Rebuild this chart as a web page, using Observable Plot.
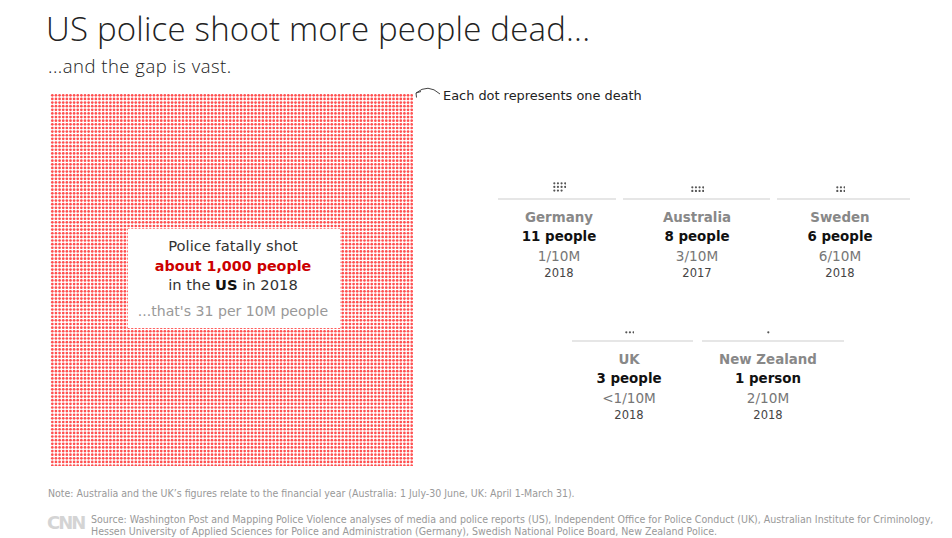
<!DOCTYPE html>
<html>
<head>
<meta charset="utf-8">
<script src="https://cdn.jsdelivr.net/npm/d3@7"></script>
<script src="https://cdn.jsdelivr.net/npm/@observablehq/plot@0.6"></script>
<style>
  html, body { margin: 0; padding: 0; background: #fff; }
  #page { position: relative; width: 952px; height: 538px; overflow: hidden; font-family: "DejaVu Sans", sans-serif; }
  .t { position: absolute; white-space: nowrap; line-height: 1; }
  .c { transform: translateX(-50%); }
  .abs { position: absolute; }
  svg { display: block; }
</style>
</head>
<body>
<div id="page"></div>
<script>
// ---------- data ----------
const usDeathsLabel = "about 1,000 people";
const usYear = "2018";
const usRateLabel = "31 per 10M people";
const usDotsDrawn = 10300;      // dots counted in the picture's grid
const usGridColumns = 100;

const countries  = ["Germany", "Australia", "Sweden", "UK", "New Zealand"];
const deaths     = [11, 8, 6, 3, 1];
const rateLabels = ["1/10M", "3/10M", "6/10M", "<1/10M", "2/10M"];
const years      = ["2018", "2017", "2018", "2018", "2018"];

// ---------- layout ----------
const page = document.getElementById("page");
const S = 3.63; // dot pitch
const cardLayout = [
  {cx: 559, l: 498, r: 616, line: 199},
  {cx: 697, l: 623, r: 770, line: 199},
  {cx: 840, l: 777, r: 910, line: 199},
  {cx: 629, l: 572, r: 693, line: 341},
  {cx: 768, l: 702, r: 844, line: 341}
];

function txt(html, x, baseline, size, style = {}, center = true, asc = 0.846) {
  const d = document.createElement("div");
  d.className = "t" + (center ? " c" : "");
  d.innerHTML = html;
  d.style.left = x + "px";
  d.style.top = (baseline - asc * size) + "px";
  d.style.fontSize = size + "px";
  Object.assign(d.style, style);
  page.appendChild(d);
  return d;
}

function waffle(n, cols, rows, colMajor, r, fill) {
  const dots = d3.range(n).map(i => colMajor
    ? {col: Math.floor(i / rows), row: i % rows}
    : {col: i % cols, row: Math.floor(i / cols)});
  return Plot.plot({
    width: cols * S, height: rows * S, margin: 0,
    x: {domain: [-0.5, cols - 0.5], axis: null},
    y: {domain: [-0.5, rows - 0.5], axis: null, reverse: true},
    marks: [Plot.dot(dots, {x: "col", y: "row", r, fill, stroke: "none"})]
  });
}

// ---------- title ----------
const titleFont = {fontFamily: "'Open Sans'", fontWeight: 300, color: "#222"};
txt("US police shoot more people dead...", 46, 41.5, 33, {...titleFont, letterSpacing: "0.2px"}, false, 0.888);
txt("...and the gap is vast.", 48, 73.5, 18.5, {...titleFont, letterSpacing: "0.5px"}, false, 0.888);

// ---------- US waffle ----------
const usRows = Math.ceil(usDotsDrawn / usGridColumns);
const us = waffle(usDotsDrawn, usGridColumns, usRows, false, 1.35, "#ff5050");
us.style.position = "absolute"; us.style.left = "49.5px"; us.style.top = "92.5px";
page.appendChild(us);

const box = document.createElement("div");
box.className = "abs";
Object.assign(box.style, {left: "128px", top: "229px", width: "212px", height: "99px", background: "#fff"});
page.appendChild(box);
const bx = 233;
txt("Police fatally shot", bx, 251, 14.7, {color: "#333"});
txt(usDeathsLabel, bx, 271, 14.3, {color: "#cc0000", fontWeight: "bold"});
txt("in the <b style='color:#111'>US</b> in " + usYear, bx, 290, 14.7, {color: "#333"});
txt("...that's " + usRateLabel, bx, 316, 14.1, {color: "#999"});

// ---------- annotation ----------
const ns = "http://www.w3.org/2000/svg";
const ann = document.createElementNS(ns, "svg");
ann.setAttribute("width", 952); ann.setAttribute("height", 538);
ann.style.position = "absolute"; ann.style.left = "0"; ann.style.top = "0"; ann.style.pointerEvents = "none";
ann.innerHTML = `<path d="M440 94 Q428 83 416 93" fill="none" stroke="#444" stroke-width="1"/>
<path d="M416 93 l5 -1.5 M416 93 l0.5 4.5" fill="none" stroke="#444" stroke-width="1"/>`;
page.appendChild(ann);
txt("Each dot represents one death", 443, 100.5, 12.9, {color: "#222"}, false);

// ---------- country cards ----------
countries.forEach((name, i) => {
  const L = cardLayout[i];
  const n = deaths[i];
  const rows = Math.max(1, Math.floor(Math.sqrt(n)));
  const cols = Math.ceil(n / rows);
  const w = waffle(n, cols, rows, true, 1.1, "#555");
  w.style.position = "absolute";
  w.style.left = (L.cx - cols * S / 2) + "px";
  w.style.top = (L.line - 9 - (rows - 0.5) * S) + "px";
  page.appendChild(w);

  const ln = document.createElement("div");
  ln.className = "abs";
  Object.assign(ln.style, {left: L.l + "px", top: (L.line - 1) + "px", width: (L.r - L.l) + "px", height: "2px", background: "#e6e6e6"});
  page.appendChild(ln);

  txt(name, L.cx, L.line + 23.2, 13.4, {color: "#888", fontWeight: "bold"});
  txt(n + (n === 1 ? " person" : " people"), L.cx, L.line + 42.8, 13.4, {color: "#111", fontWeight: "bold"});
  txt(rateLabels[i], L.cx, L.line + 62.2, 13.6, {color: "#777"});
  txt(years[i], L.cx, L.line + 79, 11.5, {color: "#444"});
});

// ---------- footer ----------
const foot = {fontFamily: "'Liberation Sans Narrow', 'DejaVu Sans Condensed', sans-serif", color: "#999"};
txt("Note: Australia and the UK’s figures relate to the financial year (Australia: 1 July-30 June, UK: April 1-March 31).", 48, 497.5, 10.5, foot, false, 0.86);
txt("CNN", 47, 529, 18, {fontFamily: "'DejaVu Sans'", fontWeight: "bold", color: "#d4d4d4", letterSpacing: "-2px"}, false);
txt("Source: Washington Post and Mapping Police Violence analyses of media and police reports (US), Independent Office for Police Conduct (UK), Australian Institute for Criminology,", 91, 523.5, 10.55, foot, false, 0.86);
txt("Hessen University of Applied Sciences for Police and Administration (Germany), Swedish National Police Board, New Zealand Police.", 91, 535.5, 10.55, foot, false, 0.86);
</script>
</body>
</html>
